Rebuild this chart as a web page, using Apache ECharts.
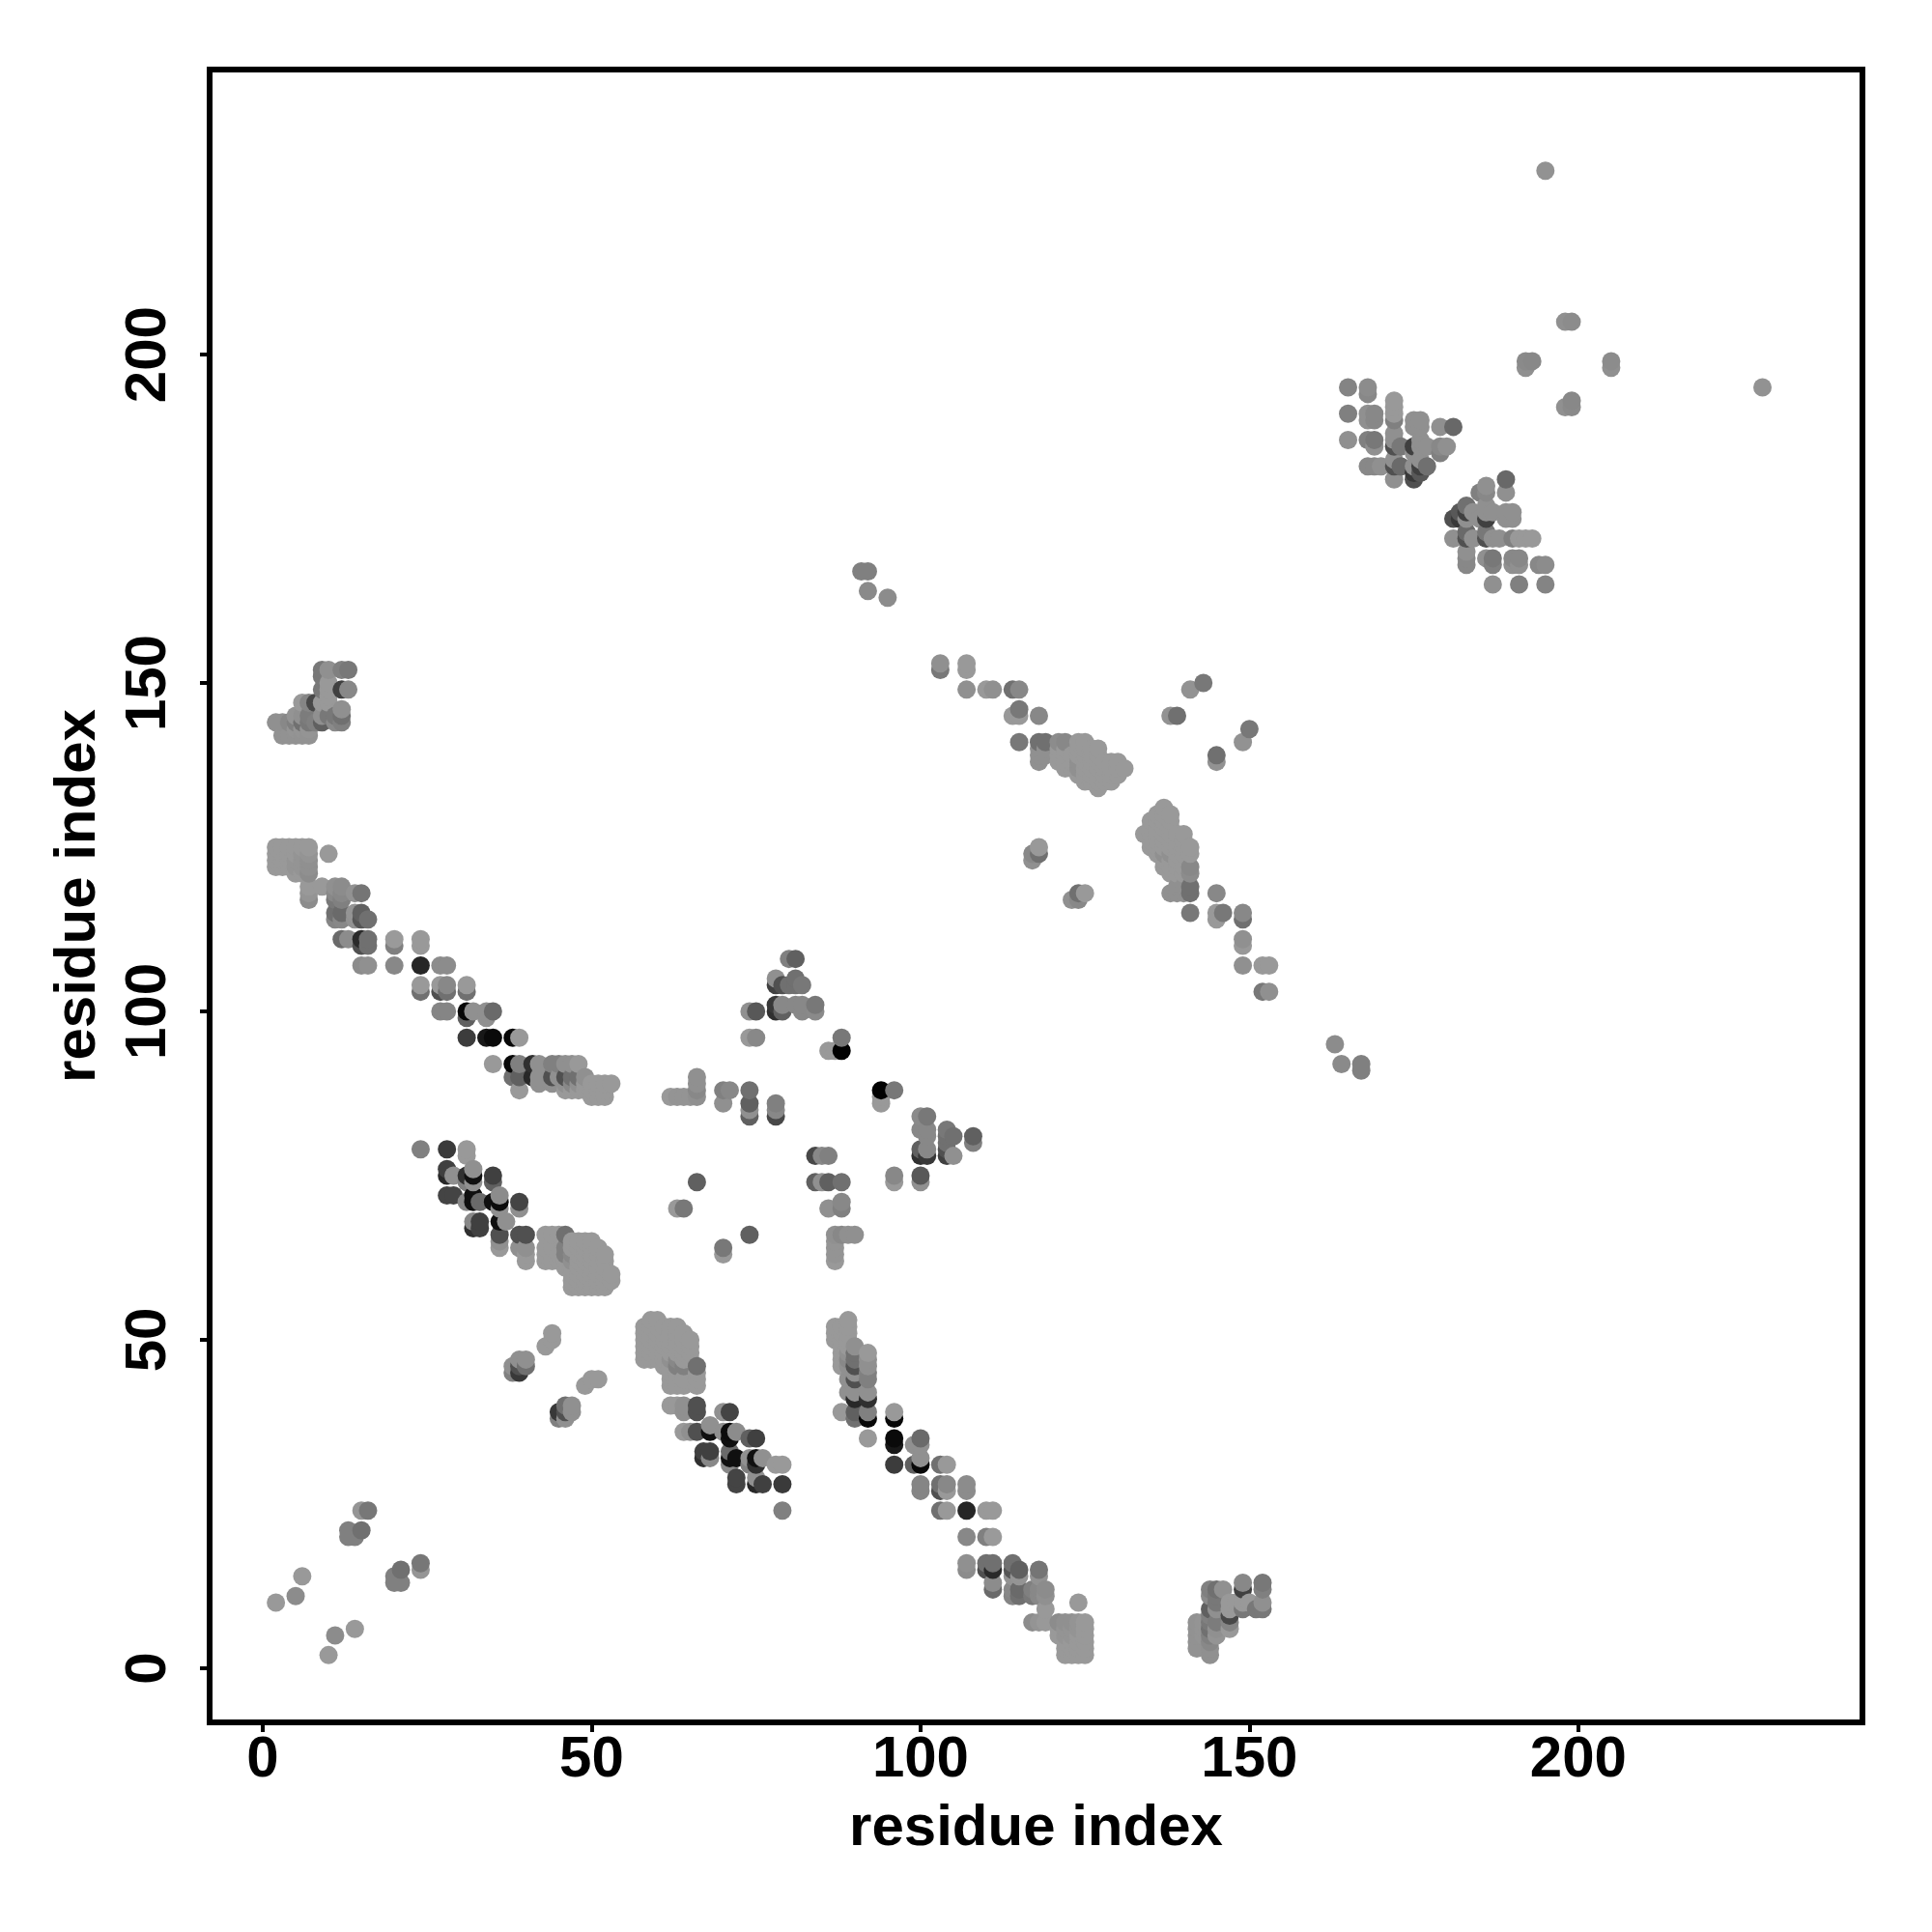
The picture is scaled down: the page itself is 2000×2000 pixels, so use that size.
<!DOCTYPE html>
<html>
<head>
<meta charset="utf-8">
<style>html,body{margin:0;padding:0;background:#fff}#c{width:2000px;height:2000px}</style>
<script src="https://cdn.jsdelivr.net/npm/echarts@6/dist/echarts.min.js"></script>
</head>
<body>
<div id="c"></div>
<script>
// Contact map: [residue i, residue j, grey level]. The map is symmetric, so only i<j is listed.
const tickValues = [0, 50, 100, 150, 200];
const axisTitle = "residue index";
const L = 0x99;

const nearOrigin = [[2,10,L],[5,11,0x8c],[6,14,L],[13,20,0x80],[13,21,0x80],[14,20,0x80],[15,21,0x70],[15,24,0x95],[16,24,0x77]];

const helixPair = [[24,79,0x80],[28,79,0x3a],[31,79,L],[31,78,L],[28,76,0x40],[28,75,0x28],[29,75,0x90],[31,75,0x30],[31,74,0x80],
 [32,76,0x90],[32,75,0x10],[32,74,0x90],[35,75,0x40],[35,74,0x60],[28,72,0x44],[29,72,0x44],[31,71,0x88],[32,72,0x10],[32,71,0x10],
 [33,71,0x6a],[35,71,0x10],[36,72,0x8c],[36,71,0x0c],[36,70,0x90],[39,71,0x44],[39,70,0x90],[32,68,0x88],[32,67,0x30],[33,68,0x40],
 [33,67,0x40],[36,68,0x10],[37,68,0x90],[36,66,0x50],[36,65,0x90],[36,64,L],[39,66,0x50],[40,66,0x50],[39,64,0x90],[40,64,0x90],
 [40,63,L],[40,62,L],[43,66,L],[44,66,L],[43,64,L],[44,64,L],[43,63,L],[43,62,L],[44,62,L],[45,66,L],[46,66,0x70],[46,64,0x80],[46,63,0x80]];

const helixBlob = [[47,65,L],[48,65,L],[49,65,L],[50,65,L],[47,64,L],[48,64,L],[49,64,L],[50,64,L],[51,64,L],
 [45,63,L],[47,63,0x88],[48,63,L],[49,63,L],[50,63,L],[51,63,L],[52,63,L],[45,62,L],[46,62,L],[47,62,0x90],[48,62,L],[49,62,L],[50,62,L],[51,62,L],[52,62,L],
 [46,61,L],[47,61,L],[48,61,L],[49,61,L],[50,61,L],[51,61,L],[52,61,L],[47,60,L],[48,60,L],[49,60,L],[50,60,L],[51,60,L],[52,60,L],[53,60,L],
 [47,59,L],[48,59,L],[49,59,L],[50,59,L],[51,59,L],[52,59,L],[53,59,L],[47,58,L],[48,58,L],[49,58,L],[50,58,L],[51,58,L],[52,58,L]];

const longStrand = [[10,124,L],[2,125,L],[3,125,L],[4,125,L],[5,125,L],[6,125,L],[7,125,L],[2,124,L],[3,124,L],[4,124,L],[5,124,L],[6,124,0x94],[7,124,0x94],
 [2,123,L],[3,123,L],[4,123,L],[5,123,0x94],[6,123,0x94],[7,123,0x90],[2,122,L],[3,122,L],[4,122,L],[5,122,0x94],[6,122,0x94],[7,122,0x90],
 [5,121,L],[6,121,L],[7,121,0x8c],[7,119,L],[7,118,0x94],[7,117,0x8c],[9,119,L],[11,119,0x90],[12,119,0x8c],[11,118,0x88],[12,118,0x88],[11,117,0x78],[12,117,0x80],
 [14,118,0x92],[15,118,0x75],[11,115,0x70],[11,114,0x85],[12,115,0x6a],[12,114,0x88],[14,115,0x94],[14,114,0x92],[15,115,0x60],[15,114,0x55],[16,114,0x70],
 [12,111,0x6a],[13,111,0x8c],[15,111,0x2a],[15,110,0x50],[16,111,0x70],[16,110,0x70],[20,111,0x9a],[20,110,0x80],[24,111,L],[24,110,L],
 [15,107,0x8c],[16,107,0x90],[20,107,0x88],[24,107,0x26],[27,107,0x8c],[28,107,0x8c],[24,104,L],[24,103,0x70],[27,104,L],[27,103,0x50],[28,104,0x88],[28,103,0x70],
 [31,104,L],[31,103,0x70],[27,100,0x85],[28,100,0x85],[31,100,0x08],[31,99,0x60],[32,100,0x90],[34,100,0x90],[34,99,0x90],[35,100,0x6a],
 [31,96,0x3c],[34,96,0x18],[35,96,0x0a],[38,96,0x08],[39,96,L],[35,92,L],[38,92,0x08],[39,92,0x80],[38,90,0x70],[39,90,0x60],[39,88,L],
 [41,92,0x30],[42,92,0x90],[44,92,0x80],[45,92,0x80],[46,92,0x90],[47,92,0x90],[48,92,L],[41,90,0x28],[42,90,0x90],[44,90,0x50],[45,90,0x90],[46,90,0x50],[47,90,0x70],[48,90,0x70],[49,90,0x90],
 [42,89,0x90],[44,89,0x90],[46,89,0x90],[47,89,0x88],[48,89,0x90],[49,89,L],[50,89,L],[51,89,L],[52,89,L],[53,89,L],
 [46,88,L],[47,88,L],[48,88,L],[49,88,L],[50,88,L],[51,88,L],[52,88,L],[50,87,L],[51,87,L],[52,87,L]];

const cornerPatch = [[9,152,0x78],[10,152,0x90],[12,152,0x80],[13,152,0x78],[9,151,0x78],[9,149,0x78],[10,150,L],[10,149,L],[12,149,0x40],[13,149,0x88],[10,148,L],
 [6,147,L],[7,147,0x85],[8,147,0x48],[9,147,L],[10,147,L],[12,146,0x90],[5,145,0x94],[6,145,0x90],[7,145,0x7c],[9,145,0x90],[10,145,0x78],[11,145,0x78],[12,145,0x70],
 [11,144,0x8a],[12,144,0x80],[2,144,0x90],[3,144,0x90],[4,144,0x88],[5,144,0x80],[6,144,0x70],[7,144,0x78],[8,144,0x80],[9,144,0x60],
 [5,143,0x94],[6,143,0x94],[7,143,0x94],[3,142,0x92],[4,142,0x92],[5,142,0x92],[6,142,0x92],[7,142,0x92]];

const shortPairs = [[38,46,0x90],[38,45,0x80],[39,47,0x90],[39,46,0x50],[39,45,0x38],[40,47,0x90],[40,46,0x70],[43,49,L],[44,51,L],[44,50,L]];

const middleBand = [[62,87,L],[63,87,0x94],[64,87,0x94],[65,87,0x94],[66,87,0x90],[66,88,0x88],[66,89,0x90],[66,90,0x90],[70,88,0x80],[71,88,0x88],[70,86,0x90],
 [74,88,0x70],[74,86,0x60],[74,85,0x90],[74,84,0x60],[78,86,0x80],[78,85,0x88],[78,84,0x48],[63,70,L],[64,70,0x78],[66,74,0x60],
 [80,108,0x80],[81,108,0x60],[78,105,0x90],[78,104,0x40],[79,104,0x50],[80,104,0x70],[81,105,0x70],[81,104,0x70],[82,104,0x78],
 [74,100,0x90],[75,100,0x58],[78,101,0x38],[78,100,0x30],[79,101,0x88],[79,100,0x60],[81,101,0x88],[82,101,0x88],[82,100,0x88],[84,101,0x78],[84,100,0x8a],
 [74,96,L],[75,96,0x88],[86,94,L],[87,94,L],[88,96,0x78],[88,94,0x02],[91,167,0x80],[92,167,0x80],[92,164,0x8a],[95,163,0x8c]];

const descending = [[103,153,0x90],[103,152,0x78],[107,153,L],[107,152,L],[107,149,0x90],[110,149,L],[111,149,0x90],[114,149,0x70],[115,149,0x88],
 [114,145,L],[115,146,0x78],[115,145,L],[118,145,0x88],[115,141,0x78],[118,141,0x70],[119,141,0x70],[118,140,0x90],[118,139,0x90],[118,138,0x90],[119,140,0x90],[119,139,0x90],
 [121,141,0x8c],[122,141,0x88],[124,141,L],[125,141,L],[121,140,L],[122,140,L],[124,140,L],[125,140,L],[126,140,L],[127,140,L],
 [121,139,L],[122,139,L],[123,139,L],[124,139,L],[125,139,L],[126,139,L],[127,139,L],[121,138,L],[122,138,L],[123,138,L],[124,138,0x90],[125,138,L],[126,138,L],[127,138,L],[128,138,L],[129,138,L],[130,138,L],
 [122,137,L],[123,137,L],[124,137,0x90],[125,137,L],[126,137,L],[127,137,L],[128,137,L],[129,137,L],[130,137,L],[131,137,L],
 [124,136,L],[125,136,L],[126,136,L],[127,136,L],[128,136,L],[129,136,L],[130,136,L],[125,135,L],[126,135,L],[127,135,L],[128,135,L],[129,135,L],[127,134,L],
 [117,124,0x88],[118,125,L],[118,124,0x70],[117,123,0x90],[138,145,0x92],[139,145,0x70],[141,149,0x92],[143,150,0x78]];

const topCluster = [[165,195,0x84],[165,191,0x80],[165,187,0x90],[168,195,0x8c],[168,194,0x88],[168,191,0x90],[168,190,0x90],[168,187,0x80],[168,183,0x88],
 [169,191,0x88],[169,190,0x88],[169,187,0x78],[169,186,0x90],[169,183,0x88],[170,183,0x90],[172,193,L],[172,192,L],[172,191,L],[172,190,0x80],[172,188,0x90],[172,187,0x90],[172,186,0x50],[172,184,0x90],[172,183,0x50],[172,181,0x90],
 [173,186,0x78],[173,183,0x6a],[175,190,0x90],[175,189,0x90],[175,186,0x40],[175,185,0x90],[175,183,0x90],[175,182,0x38],[175,181,0x50],
 [176,190,0x90],[176,189,0x90],[176,187,0x90],[176,186,0x90],[176,184,0x90],[176,183,0x40],[176,182,0x58],[177,186,0x90],[177,183,0x70],
 [179,189,0x90],[179,186,0x88],[179,185,0x80],[180,186,0x90],[181,189,0x68],
 [192,199,0x8a],[192,198,0x90],[193,199,0x88],[198,205,0x90],[199,205,0x8c],[195,228,0x92]];

const upperHalf = [].concat(nearOrigin, helixPair, helixBlob, longStrand, cornerPatch, shortPairs, middleBand, descending, topCluster);

// Every contact appears on both sides of the diagonal; drawn in ascending (x, y) order.
const points = upperHalf.concat(upperHalf.map(p => [p[1], p[0], p[2]]));
points.sort((a, b) => a[0] - b[0] || a[1] - b[1]);

const grey = g => 'rgb(' + g + ',' + g + ',' + g + ')';
const tickText = { fontFamily: 'Liberation Sans', fontWeight: 'bold', fontSize: 60, color: '#000' };

const chart = echarts.init(document.getElementById('c'), null, { renderer: 'canvas', width: 2000, height: 2000 });
chart.setOption({
  animation: false,
  backgroundColor: '#fff',
  grid: { left: 217, top: 72, width: 1711, height: 1711, show: true, borderColor: '#000', borderWidth: 6, backgroundColor: 'transparent' },
  xAxis: {
    type: 'value', min: -8.08, max: 243.2, splitLine: { show: false }, axisLine: { show: false, onZero: false },
    axisTick: { show: true, length: 10, lineStyle: { color: '#000', width: 4 }, customValues: tickValues },
    axisLabel: Object.assign({ margin: 9, customValues: tickValues, hideOverlap: false }, tickText),
    name: axisTitle, nameLocation: 'middle', nameGap: 80,
    nameTextStyle: Object.assign({}, tickText)
  },
  yAxis: {
    type: 'value', min: -8.24, max: 243.4, splitLine: { show: false }, axisLine: { show: false, onZero: false },
    axisTick: { show: true, length: 10, lineStyle: { color: '#000', width: 4 }, customValues: tickValues },
    axisLabel: Object.assign({ margin: 63, rotate: 90, customValues: tickValues, hideOverlap: false, align: 'center', verticalAlign: 'middle' }, tickText),
    name: axisTitle, nameLocation: 'middle', nameGap: 106, nameRotate: 90,
    nameTextStyle: Object.assign({}, tickText)
  },
  series: [{
    type: 'scatter', symbol: 'circle', symbolSize: 19, clip: false, silent: true, large: false, progressive: 0,
    data: points.map(p => ({ value: [p[0], p[1]], itemStyle: { color: grey(p[2]), opacity: 1 } }))
  }]
});
</script>
</body>
</html>
